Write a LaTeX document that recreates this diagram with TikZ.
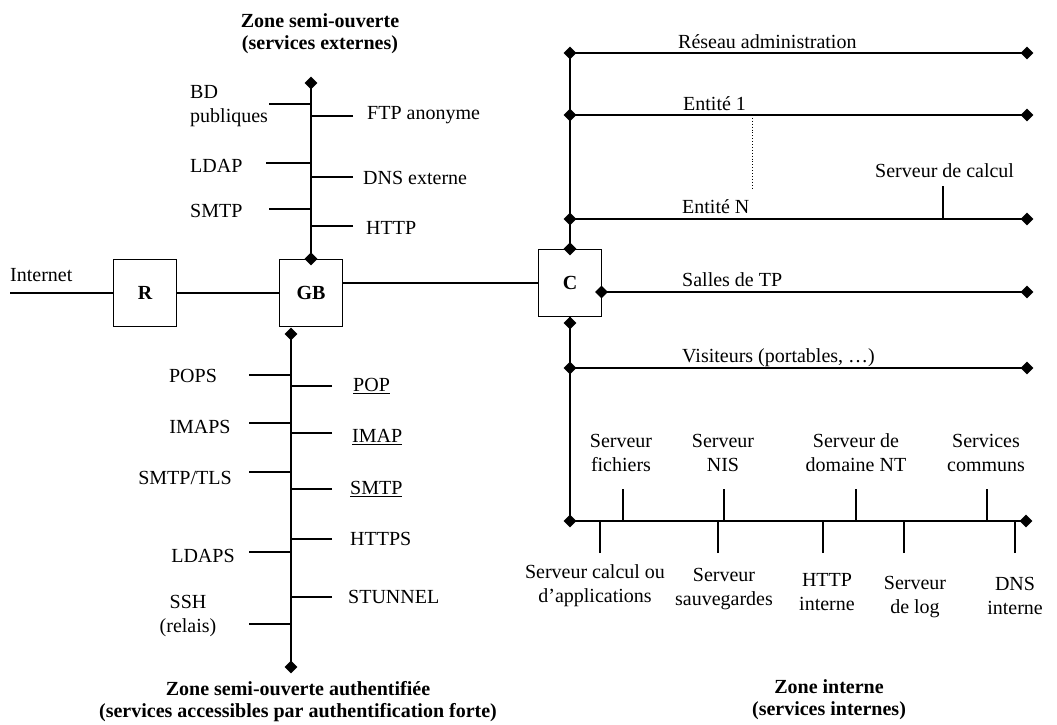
\documentclass[tikz,border=0pt]{standalone}
\usepackage{fontspec}
\setmainfont{Liberation Serif}
\usetikzlibrary{shapes.geometric}

\begin{document}
\begin{tikzpicture}[x=1pt,y=-1pt,
  every node/.style={font=\fontsize{20}{24}\selectfont},
  wire/.style={line width=1.3pt},
  tap/.style={diamond,fill=black,inner sep=0pt,minimum size=13pt},
  box/.style={draw,line width=1.3pt,minimum width=63pt,minimum height=67pt,font=\fontsize{20}{24}\selectfont\bfseries},
  lbl/.style={inner sep=0pt,anchor=west},
  two/.style={inner sep=0pt,align=center},
  ttl/.style={inner sep=0pt,align=center,font=\fontsize{20}{22}\selectfont\bfseries}]

\useasboundingbox (0,0) rectangle (1057,724);

% ---------- equipment ----------
\node[box] (R)  at (145,293) {R};
\node[box] (GB) at (311,293) {GB};
\node[box] (C)  at (570,283) {C};

% ---------- Internet access and backbone ----------
\coordinate (inet) at (10,293);
\node[lbl] (linet) at (10,275) {Internet};
\draw[wire] (inet) -- (R.west);
\draw[wire] (R.east) -- (GB.west);
\draw[wire] (C.west -| GB.east) -- (C.west);

% ---------- external services zone ----------
\node[ttl] (tExt) at (320,34) {Zone semi-ouverte\\(services externes)};
\coordinate (ut) at (311,83);
\draw[wire] (ut) -- (GB.north);
\node[tap] at (ut) {};
\node[tap] at (GB.north) {};

\coordinate (sBD)   at (269,104);
\coordinate (sLDAP) at (266,163);
\coordinate (sSMTP) at (269,209);
\coordinate (sFTP)  at (353,116);
\coordinate (sDNS)  at (353,177);
\coordinate (sHTTP) at (353,226);
\foreach \s in {sBD,sLDAP,sSMTP,sFTP,sDNS,sHTTP}
  \draw[wire] (\s) -- (\s -| ut);

\node[lbl,align=left] (lBD) at (190,106) {BD\\publiques};
\node[lbl] (lLDAP) at (190,166) {LDAP};
\node[lbl] (lSMTP) at (190,211) {SMTP};
\node[lbl] (lFTP)  at (367,115) {FTP anonyme};
\node[lbl] (lDNS)  at (363,178) {DNS externe};
\node[lbl] (lHTTP) at (366,228) {HTTP};

% ---------- authenticated services zone ----------
\coordinate (lt) at (291,334);
\coordinate (lb) at (291,667);
\draw[wire] (lt) -- (lb);
\node[tap] at (lt) {};
\node[tap] at (lb) {};

\coordinate (sPOPS)  at (249,375);
\coordinate (sIMAPS) at (249,423);
\coordinate (sTLS)   at (249,472);
\coordinate (sLDAPS) at (249,552);
\coordinate (sSSH)   at (249,624);
\coordinate (sPOP)   at (332,386);
\coordinate (sIMAP)  at (332,433);
\coordinate (sSMTPa) at (332,489);
\coordinate (sHTTPS) at (332,539);
\coordinate (sSTUN)  at (332,597);
\foreach \s in {sPOPS,sIMAPS,sTLS,sLDAPS,sSSH,sPOP,sIMAP,sSMTPa,sHTTPS,sSTUN}
  \draw[wire] (\s) -- (\s -| lt);

\node[two] (lPOPS)  at (193,376) {POPS};
\node[two] (lIMAPS) at (200,427) {IMAPS};
\node[two] (lTLS)   at (185,478) {SMTP/TLS};
\node[two] (lLDAPS) at (203,556) {LDAPS};
\node[two] (lSSH)   at (188,616) {SSH\\(relais)};
\node[lbl] (lPOP)   at (353,386) {\underline{POP}};
\node[lbl] (lIMAP)  at (352,437) {\underline{IMAP}};
\node[lbl] (lSMTPa) at (350,489) {\underline{SMTP}};
\node[lbl] (lHTTPS) at (350,539) {HTTPS};
\node[lbl] (lSTUN)  at (348,597) {STUNNEL};

\node[ttl] (tAuth) at (298,702) {Zone semi-ouverte authentifiée\\(services accessibles par authentification forte)};

% ---------- internal zone: upper networks ----------
\coordinate (raW) at (570,53);   \coordinate (raE) at (1027,53);
\coordinate (e1W) at (570,115);  \coordinate (e1E) at (1027,115);
\coordinate (eNW) at (570,219);  \coordinate (eNE) at (1027,219);
\draw[wire] (raW) -- (C.north);
\foreach \a/\b in {raW/raE,e1W/e1E,eNW/eNE}
  \draw[wire] (\a) -- (\b);
\foreach \p in {raW,raE,e1W,e1E,eNW,eNE}
  \node[tap] at (\p) {};
\node[tap] at (C.north) {};

\node[lbl] (lra) at (678,42)  {Réseau administration};
\node[lbl] (le1) at (683,104) {Entité 1};
\node[lbl] (leN) at (682,207) {Entité N};

\coordinate (dotT) at (752,115);
\coordinate (dotB) at (752,188);
\draw[line width=0.9pt,dotted] (dotT) -- (dotB);

\node[lbl] (lcalc) at (875,171) {Serveur de calcul};
\coordinate (scalc) at (943,186);
\draw[wire] (scalc) -- (scalc |- eNW);

% ---------- internal zone: lower networks ----------
\coordinate (tpW) at (601.5,292); \coordinate (tpE) at (1027,292);
\coordinate (cb)  at (570,323);
\coordinate (vW)  at (570,368);   \coordinate (vE)  at (1027,368);
\coordinate (bW)  at (570,521);   \coordinate (bE)  at (1026,521);
\draw[wire] (tpW) -- (tpE);
\draw[wire] (C.south) -- (cb) -- (bW);
\draw[wire] (vW) -- (vE);
\draw[wire] (bW) -- (bE);
\foreach \p in {tpW,tpE,cb,vW,vE,bW,bE}
  \node[tap] at (\p) {};

\node[lbl] (ltp) at (682,280) {Salles de TP};
\node[lbl] (lvis) at (682,358) {Visiteurs (portables, …)};

% servers on the services network
\foreach \x/\n in {623/uF,724/uN,856/uD,987/uS}
  \coordinate (\n) at (\x,489);
\foreach \x/\n in {600/dC,718/dS,823/dH,904/dL,1015/dD}
  \coordinate (\n) at (\x,553);
\foreach \n in {uF,uN,uD,uS,dC,dS,dH,dL,dD}
  \draw[wire] (\n) -- (\n |- bW);

\node[two] (lF) at (621,453) {Serveur\\fichiers};
\node[two] (lN) at (723,453) {Serveur\\NIS};
\node[two] (lD) at (856,453) {Serveur de\\domaine NT};
\node[two] (lS) at (986,453) {Services\\communs};
\node[two] (lC) at (595,586) {Serveur calcul ou\\d’applications};
\node[two] (lSv) at (724,589) {Serveur\\sauvegardes};
\node[two] (lH) at (827,592) {HTTP\\interne};
\node[two] (lL) at (915,597) {Serveur\\de log};
\node[two] (lDN) at (1015,596) {DNS\\interne};

\node[ttl] (tInt) at (829,700) {Zone interne\\(services internes)};

\end{tikzpicture}
\end{document}
